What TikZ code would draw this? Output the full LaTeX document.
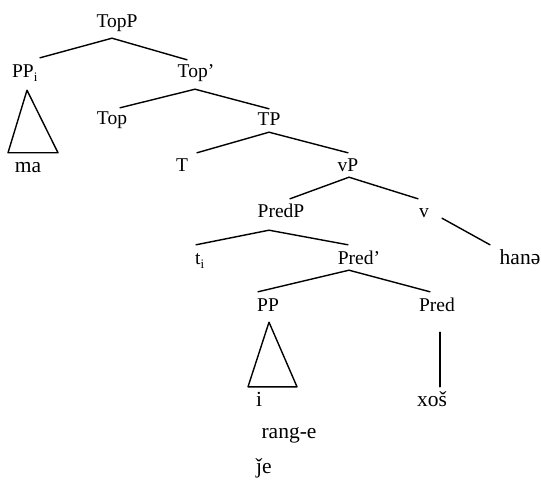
\documentclass[tikz,border=0pt]{standalone}
\usepackage{fontspec}
\setmainfont{Liberation Serif}
\usetikzlibrary{calc}
\tikzset{
  lab/.style={anchor=base, inner sep=0pt, text height=14pt, text depth=4pt, font=\fontsize{19.5}{23}\selectfont},
  word/.style={lab, font=\fontsize{21.5}{25}\selectfont},
  edge/.style={line width=1.4pt, line cap=round, line join=round},
}
\newcommand{\sbi}{\textsubscript{\fontsize{13}{14}\selectfont i}}
\begin{document}
\begin{tikzpicture}[x=1pt,y=-1pt]
\useasboundingbox (0,0) rectangle (541,481);
% nodes (x = centre, y = baseline)
\node[lab] (TopP) at (117,28) {TopP};
\node[lab] (PPi) at (25,78) {PP\sbi};
\node[lab] (Topb) at (196,78) {Top’};
\node[lab] (Top) at (112,125) {Top};
\node[lab] (TP) at (269,126) {TP};
\node[lab] (T) at (182,172) {T};
\node[word] (ma) at (28,173) {ma};
\node[lab] (vP) at (348,172) {vP};
\node[lab] (PredP) at (281,218) {PredP};
\node[lab] (v) at (424,218) {v};
\node[lab] (ti) at (200,265) {t\sbi};
\node[lab] (Predb) at (359,265) {Pred’};
\node[word] (hane) at (520,265) {hanə};
\node[lab] (PP) at (268,312) {PP};
\node[lab] (Pred) at (437,312) {Pred};
\node[word] (i) at (259,406) {i};
\node[word] (xos) at (432,406) {xoš};
\node[word] (range) at (289,438) {rang-e};
\node[word] (je) at (264,473) {ǰe};
% connectors
\draw[edge] ($(TopP.south)+(-5,6)$) -- ($(PPi.north)+(15,-6)$);
\draw[edge] ($(TopP.south)+(-5,6)$) -- ($(Topb.north)+(-9,-4)$);
\draw[edge] ($(Topb.south)+(-1,7)$) -- ($(Top.north)+(8,-3)$);
\draw[edge] ($(Topb.south)+(-1,7)$) -- ($(TP.north)+(0,-3)$);
\draw[edge] ($(TP.south)+(0,2)$) -- ($(T.north)+(15,-5)$);
\draw[edge] ($(TP.south)+(0,2)$) -- ($(vP.north)+(0,-5)$);
\draw[edge] ($(vP.south)+(1,1)$) -- ($(PredP.north)+(9,-5)$);
\draw[edge] ($(vP.south)+(1,1)$) -- ($(v.north)+(-6,-5)$);
\draw[edge] ($(v.south)+(18,-4)$) -- ($(hane.north)+(-30,-6)$);
\draw[edge] ($(PredP.south)+(-12,8)$) -- ($(ti.north)+(-4,-6)$);
\draw[edge] ($(PredP.south)+(-12,8)$) -- ($(Predb.north)+(-11,-6)$);
\draw[edge] ($(Predb.south)+(-10,1)$) -- ($(PP.north)+(-10,-6)$);
\draw[edge] ($(Predb.south)+(-10,1)$) -- ($(Pred.north)+(-7,-6)$);
% triangles
\draw[edge] ($(PPi.south)+(2,8)$) -- ($(ma.north)+(-20,-6)$) -- ($(ma.north)+(30,-6)$) -- cycle;
\draw[edge] ($(PP.south)+(1,6)$) -- ($(i.north)+(-11,-5)$) -- ($(i.north)+(38,-5)$) -- cycle;
\draw[edge] ($(Pred.south)+(3,16)$) -- ($(xos.north)+(8,-5)$);
\end{tikzpicture}
\end{document}
